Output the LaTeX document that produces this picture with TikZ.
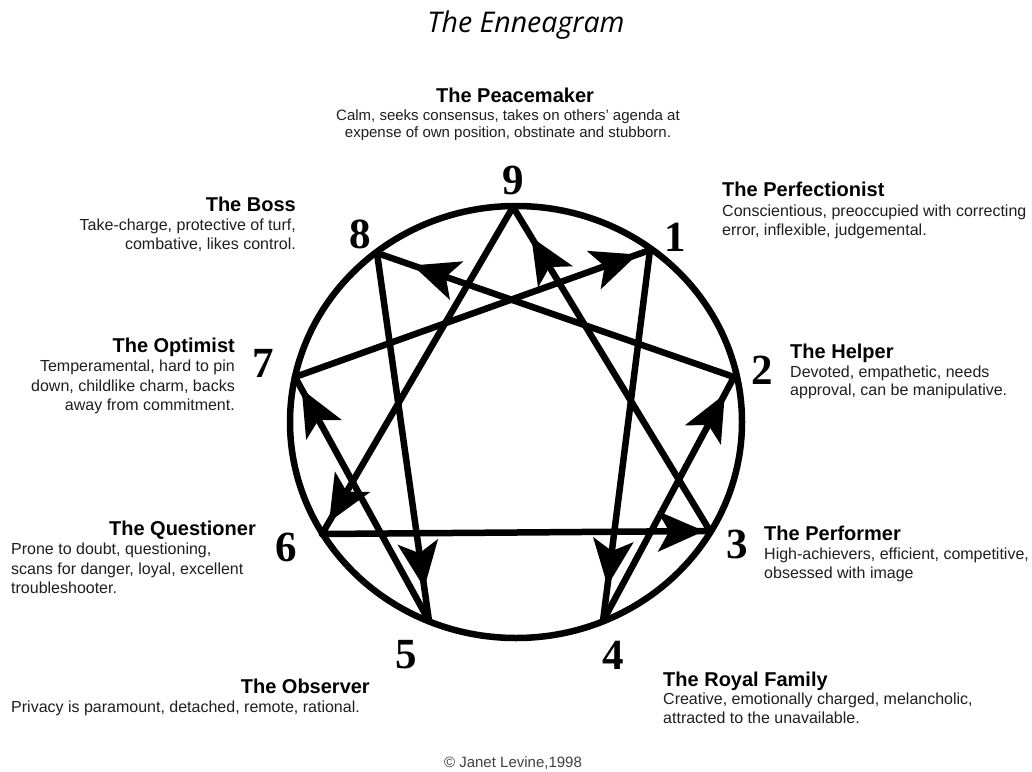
\documentclass[tikz,border=0pt]{standalone}
\usepackage{fontspec}
\setmainfont{Liberation Sans}
\newfontfamily\numfont{Liberation Serif}
\newfontfamily\titlefont{Open Sans}
\usetikzlibrary{arrows.meta,decorations.markings}
\begin{document}
\begin{tikzpicture}[x=1pt,y=-1pt,
  edge/.style={line width=6.5pt,line cap=round},
  arr/.style={postaction={decorate,decoration={markings,
      mark=at position #1 with {\arrow{Stealth[length=46pt,width=40pt,inset=11pt]}}}}},
  num/.style={inner sep=0pt,font=\numfont\bfseries\fontsize{43}{43}\selectfont},
  hdr/.style={inner sep=0pt,font=\bfseries\fontsize{20}{22}\selectfont},
  desc/.style={inner sep=0pt,text=black!88,font=\fontsize{16}{19}\selectfont},
  descs/.style={inner sep=0pt,text=black!88,font=\fontsize{15}{17}\selectfont},
]
\useasboundingbox[fill=white] (0,0) rectangle (1032,771);

% title
\node[inner sep=0pt,anchor=base,font=\titlefont\itshape\fontsize{28.5}{30}\selectfont] (title) at (526,32) {The Enneagram};

% circle
\draw[line width=6.5pt] (516,422) ellipse [x radius=226pt, y radius=216pt];

% vertices
\coordinate (v9) at (513,207);
\coordinate (v1) at (650,250);
\coordinate (v2) at (734,377);
\coordinate (v3) at (710,531);
\coordinate (v4) at (603,621);
\coordinate (v5) at (429,621);
\coordinate (v6) at (322,534);
\coordinate (v7) at (295,377);
\coordinate (v8) at (377,253);

% triangle
\draw[edge,arr=0.963] (v9) -- (v6);
\draw[edge,arr=0.985] (v6) -- (v3);
\draw[edge,arr=0.907] (v3) -- (v9);
% hexad
\draw[edge,arr=0.905] (v1) -- (v4);
\draw[edge,arr=0.93]  (v4) -- (v2);
\draw[edge,arr=0.90]  (v2) -- (v8);
\draw[edge,arr=0.91]  (v8) -- (v5);
\draw[edge,arr=0.95]  (v5) -- (v7);
\draw[edge,arr=0.965] (v7) -- (v1);

% numbers
\node[num] (n9) at (513,180) {9};
\node[num] (n1) at (675,237) {1};
\node[num] (n2) at (762,370) {2};
\node[num] (n3) at (737,544) {3};
\node[num] (n4) at (613,655) {4};
\node[num] (n5) at (406,655) {5};
\node[num] (n6) at (286,547) {6};
\node[num] (n7) at (263,363) {7};
\node[num] (n8) at (360,234) {8};

% Peacemaker
\node[hdr,anchor=base] (h9) at (515,102) {The Peacemaker};
\node[descs,anchor=base] (d9a) at (508,120) {Calm, seeks consensus, takes on others’ agenda at};
\node[descs,anchor=base] (d9b) at (508,137) {expense of own position, obstinate and stubborn.};

% Perfectionist
\node[hdr,anchor=base west] (h1) at (722,196.5) {The Perfectionist};
\node[desc,anchor=base west] (d1a) at (722,216.5) {Conscientious, preoccupied with correcting};
\node[desc,anchor=base west] (d1b) at (722,235) {error, inflexible, judgemental.};

% Helper
\node[hdr,anchor=base west] (h2) at (790,358) {The Helper};
\node[desc,anchor=base west] (d2a) at (790,377) {Devoted, empathetic, needs};
\node[desc,anchor=base west] (d2b) at (790,395.5) {approval, can be manipulative.};

% Performer
\node[hdr,anchor=base west] (h3) at (764,540) {The Performer};
\node[desc,anchor=base west] (d3a) at (764,559) {High-achievers, efficient, competitive,};
\node[desc,anchor=base west] (d3b) at (764,578) {obsessed with image};

% Royal Family
\node[hdr,anchor=base west] (h4) at (663,686) {The Royal Family};
\node[desc,anchor=base west] (d4a) at (663,704.5) {Creative, emotionally charged, melancholic,};
\node[desc,anchor=base west] (d4b) at (663,723) {attracted to the unavailable.};

% Observer
\node[hdr,anchor=base east] (h5) at (370,693) {The Observer};
\node[desc,anchor=base west] (d5a) at (11,712) {Privacy is paramount, detached, remote, rational.};

% Questioner
\node[hdr,anchor=base east] (h6) at (256,535) {The Questioner};
\node[desc,anchor=base west] (d6a) at (11,554.5) {Prone to doubt, questioning,};
\node[desc,anchor=base west] (d6b) at (11,574) {scans for danger, loyal, excellent};
\node[desc,anchor=base west] (d6c) at (11,593) {troubleshooter.};

% Optimist
\node[hdr,anchor=base east] (h7) at (235,352.5) {The Optimist};
\node[desc,anchor=base east] (d7a) at (235,371.5) {Temperamental, hard to pin};
\node[desc,anchor=base east] (d7b) at (235,391) {down, childlike charm, backs};
\node[desc,anchor=base east] (d7c) at (235,410) {away from commitment.};

% Boss
\node[hdr,anchor=base east] (h8) at (296,211.5) {The Boss};
\node[desc,anchor=base east] (d8a) at (296,230) {Take-charge, protective of turf,};
\node[desc,anchor=base east] (d8b) at (296,249) {combative, likes control.};

% copyright
\node[inner sep=0pt,anchor=base,text=black!75,font=\fontsize{15}{17}\selectfont] (copy) at (513,767) {© Janet Levine,1998};
\end{tikzpicture}
\end{document}
